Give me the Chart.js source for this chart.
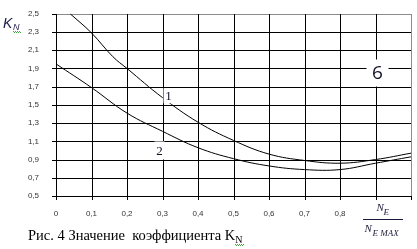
<!DOCTYPE html>
<html>
<head>
<meta charset="utf-8">
<script src="https://cdn.jsdelivr.net/npm/chart.js@4.4.1/dist/chart.umd.min.js"></script>
<style>
    body { margin: 0; background: #fff; }
    #wrap { width: 417px; height: 249px; }
</style>
</head>
<body>
<div id="wrap"><canvas id="chart" width="417" height="249"></canvas></div>
<script>
// curve 1 and curve 2
const curve1X = [0.04, 0.1, 0.16, 0.2, 0.3, 0.4, 0.5, 0.6, 0.7, 0.8, 0.9, 1.0];
const curve1Y = [2.5, 2.29, 2.03, 1.9, 1.58, 1.31, 1.11, 0.96, 0.89, 0.86, 0.90, 0.97];
const curve2X = [0, 0.1, 0.2, 0.3, 0.4, 0.5, 0.6, 0.7, 0.8, 0.9, 1.0];
const curve2Y = [1.95, 1.69, 1.41, 1.21, 1.03, 0.91, 0.83, 0.79, 0.79, 0.86, 0.93];
const curveNames = ['1', '2'];

const xMin = 0, xMax = 1, xStep = 0.1;
const yMin = 0.5, yMax = 2.5, yStep = 0.2;
const hiddenXTicks = [0.9, 1.0];

const caption = 'Рис. 4 Значение  коэффициента K';
const captionSub = 'N';
const yTitle = 'K';
const yTitleSub = 'N';
const cornerMark = '6';

function toPoints(xs, ys) {
    return xs.map((x, i) => ({ x: x, y: ys[i] }));
}

function fmt(v) {
    if (Math.abs(v) < 1e-9) return '0';
    return v.toFixed(1).replace('.', ',');
}

const near = (a, b) => Math.abs(a - b) < 1e-6;

function squiggle(ctx, x0, x1, y) {
    ctx.save();
    ctx.fillStyle = '#3aa83a';
    for (let x = x0; x <= x1; x += 1) {
        ctx.fillRect(x, y + ((x - x0) % 2), 1, 1);
    }
    ctx.restore();
}

// crisp 1px grid, ticks and frame, placed through the scales
const gridLines = {
    id: 'gridLines',
    beforeDatasetsDraw(chart) {
        const ctx = chart.ctx;
        const a = chart.chartArea;
        const xs = chart.scales.x;
        const ys = chart.scales.y;
        const left = Math.round(a.left), right = Math.round(a.right);
        const top = Math.round(a.top), bottom = Math.round(a.bottom);
        ctx.save();
        ys.ticks.forEach(t => {
            const py = Math.round(ys.getPixelForValue(t.value));
            ctx.fillStyle = '#000';
            ctx.fillRect(left - 4, py, 4, 1);
            ctx.fillStyle = near(t.value, yMax) ? '#8c8c8c' : '#000';
            ctx.fillRect(left, py, right - left, 1);
        });
        xs.ticks.forEach(t => {
            const px = Math.round(xs.getPixelForValue(t.value));
            ctx.fillStyle = '#000';
            ctx.fillRect(px, bottom, 1, 4);
            ctx.fillStyle = near(t.value, xMax) ? '#8c8c8c' : '#000';
            ctx.fillRect(px, top, 1, bottom - top);
        });
        ctx.fillStyle = '#000';
        ctx.fillRect(left, top, 1, bottom - top + 1);
        ctx.fillRect(left, bottom, right - left, 1);
        ctx.restore();
    }
};

const decorations = {
    id: 'decorations',
    afterDatasetsDraw(chart) {
        const ctx = chart.ctx;
        const xs = chart.scales.x;
        const ys = chart.scales.y;

        // curve labels on white boxes
        const spots = [
            { text: curveNames[0], x: 0.3, y: 1.6, dx: 6, font: '13px "Liberation Serif"', w: 10, h: 15 },
            { text: curveNames[1], x: 0.3, y: 1.0, dx: -3, font: '13px "Liberation Serif"', w: 10, h: 18 },
            { text: cornerMark, x: 0.9, y: 1.85, dx: 2, font: '19px "Open Sans"', w: 22, h: 27 }
        ];
        ctx.save();
        spots.forEach(s => {
            const px = xs.getPixelForValue(s.x) + s.dx;
            const py = ys.getPixelForValue(s.y);
            ctx.fillStyle = '#fff';
            ctx.fillRect(px - s.w / 2, py - s.h / 2, s.w, s.h);
            ctx.fillStyle = '#111128';
            ctx.font = s.font;
            ctx.textAlign = 'center';
            ctx.textBaseline = 'middle';
            ctx.fillText(s.text, px, py + 1);
        });
        ctx.restore();
    },
    afterDraw(chart) {
        const ctx = chart.ctx;
        ctx.save();

        // axis title K_N
        ctx.fillStyle = '#1a1a4a';
        ctx.textAlign = 'left';
        ctx.textBaseline = 'alphabetic';
        ctx.font = 'italic 14px "Liberation Sans"';
        ctx.fillText(yTitle, 3, 28);
        ctx.font = 'italic 9px "Liberation Sans"';
        ctx.fillText(yTitleSub, 13, 30);
        squiggle(ctx, 13, 20, 31);

        // fraction N_E / N_E MAX under the x axis
        const fx = chart.scales.x.getPixelForValue(0.9) + 7;
        ctx.fillStyle = '#1a1a3a';
        ctx.font = 'italic 11px "Liberation Serif"';
        ctx.fillText('N', fx - 6, 211);
        ctx.font = 'italic 9px "Liberation Serif"';
        ctx.fillText('E', fx + 1, 215);
        ctx.fillRect(Math.round(fx - 20), 219, 40, 1);
        ctx.font = 'italic 11px "Liberation Serif"';
        ctx.fillText('N', fx - 18, 232);
        ctx.font = 'italic 9px "Liberation Serif"';
        ctx.fillText('E MAX', fx - 10, 236);

        // caption
        ctx.fillStyle = '#000';
        ctx.font = '14.5px "Liberation Serif"';
        ctx.fillText(caption, 28, 240);
        const cw = ctx.measureText(caption).width;
        ctx.font = '10px "Liberation Serif"';
        ctx.fillText(captionSub, 28 + cw, 243);
        squiggle(ctx, Math.round(28 + cw), Math.round(28 + cw + 8), 244);

        ctx.restore();
    }
};

new Chart(document.getElementById('chart'), {
    type: 'line',
    data: {
        datasets: [
            {
                label: curveNames[0],
                data: toPoints(curve1X, curve1Y),
                borderColor: '#000',
                borderWidth: 1,
                pointRadius: 0,
                tension: 0.4,
                fill: false
            },
            {
                label: curveNames[1],
                data: toPoints(curve2X, curve2Y),
                borderColor: '#000',
                borderWidth: 1,
                pointRadius: 0,
                tension: 0.4,
                fill: false
            }
        ]
    },
    options: {
        responsive: false,
        animation: false,
        layout: { padding: { left: 0, right: 6, top: 12, bottom: 0 } },
        plugins: {
            legend: { display: false },
            tooltip: { enabled: false }
        },
        scales: {
            x: {
                type: 'linear',
                min: xMin,
                max: xMax,
                afterFit: s => { s.height = 53; },
                ticks: {
                    stepSize: xStep,
                    autoSkip: false,
                    maxRotation: 0,
                    padding: 5,
                    color: '#333',
                    font: { family: '"Liberation Sans"', size: 8 },
                    callback: v => hiddenXTicks.some(h => near(h, v)) ? '' : fmt(v)
                },
                grid: { display: false },
                border: { display: false }
            },
            y: {
                min: yMin,
                max: yMax,
                afterFit: s => { s.width = 56; },
                ticks: {
                    stepSize: yStep,
                    padding: 9,
                    color: '#333',
                    font: { family: '"Liberation Sans"', size: 8 },
                    callback: v => fmt(v)
                },
                grid: { display: false },
                border: { display: false }
            }
        }
    },
    plugins: [gridLines, decorations]
});
</script>
</body>
</html>
